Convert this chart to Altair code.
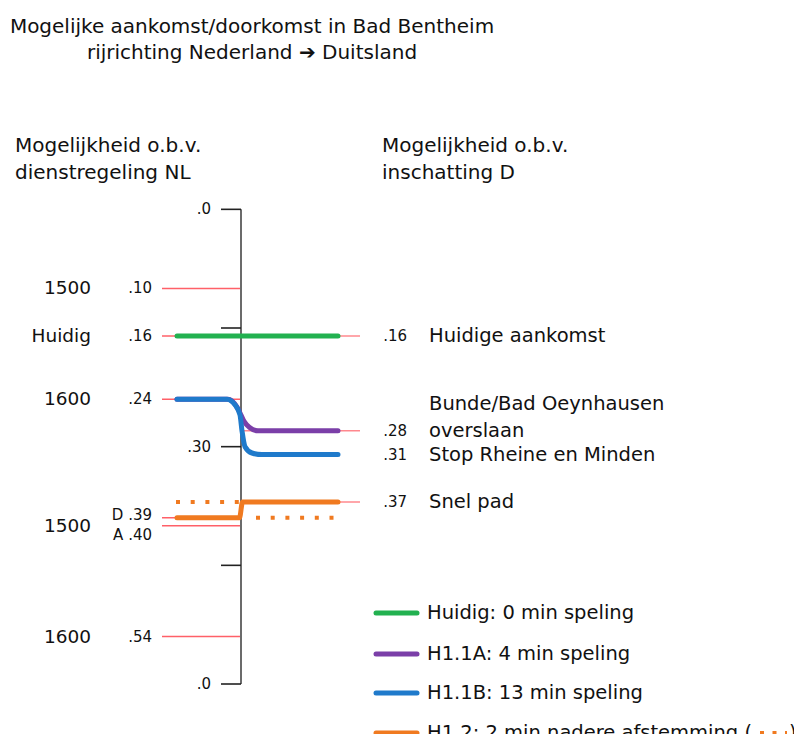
import altair as alt
import pandas as pd

FONT = "DejaVu Sans"

# ---- data (minutes past the hour) ----
left_rule_min = [10, 16, 24, 39, 40, 54]
left_rule_lbl = [".10", ".16", ".24", "D .39", "A .40", ".54"]
left_rule_dy = [0, 0, 0, -3, 9, 0]
nl_hours = ["1500", "Huidig", "1600", "1500", "1600"]
nl_hours_min = [10, 16, 24, 40, 54]

right_rule_min = [16, 28, 37]
right_lbl = [".16", ".28", ".31", ".37"]
right_lbl_min = [16, 28, 31, 37]
right_desc = ["Huidige aankomst", "overslaan", "Stop Rheine en Minden", "Snel pad"]

axis_tick_min = [0, 15, 30, 45, 60]
axis_lbl = [".0", ".30", ".0"]
axis_lbl_min = [0, 30, 60]

series = ["Huidig: 0 min speling", "H1.1A: 4 min speling",
          "H1.1B: 13 min speling", "H1.2: 2 min nadere afstemming ("]
colors = ["#22b150", "#7b3fa8", "#1f7acb", "#f07a20"]

# line paths (x: schematic position, axis at 0; y: minutes)
huidig_x = [-6.4, 9.7]
huidig_y = [16, 16]
h11a_x = [-6.4, -1.3, -0.4, 0.0, 0.3, 0.9, 1.7, 9.7]
h11a_y = [24, 24, 25, 26, 26.8, 27.6, 28, 28]
h11b_x = [-6.4, -1.4, -0.6, -0.1, 0.1, 0.4, 1.1, 2.1, 9.7]
h11b_y = [24, 24, 24.7, 26, 28, 30, 30.8, 31, 31]
h12_x = [-6.4, -0.15, 0.15, 9.7]
h12_y = [39, 39, 37, 37]
dots_x = [[-6.5, -0.1], [1.5, 9.3]]
dots_y = [37, 39]

# ---- tables ----
rows = []
for name, xs, ys in [(series[0], huidig_x, huidig_y), (series[1], h11a_x, h11a_y),
                     (series[2], h11b_x, h11b_y), (series[3], h12_x, h12_y)]:
    for i, (xv, yv) in enumerate(zip(xs, ys)):
        rows.append({"s": name, "i": i, "x": xv, "y": yv})
paths = pd.DataFrame(rows)

lr = pd.DataFrame({"y": left_rule_min, "lbl": left_rule_lbl, "dy": left_rule_dy,
                   "x1": -7.9, "x2": 0})
rr = pd.DataFrame({"y": right_rule_min, "x1": 0, "x2": 11.9})
hrs = pd.DataFrame({"y": nl_hours_min, "lbl": nl_hours})
rl = pd.DataFrame({"y": right_lbl_min, "lbl": right_lbl, "desc": right_desc})
at = pd.DataFrame({"y": axis_tick_min, "x1": -2, "x2": 0})
al = pd.DataFrame({"y": axis_lbl_min, "lbl": axis_lbl})
dots = pd.DataFrame([{"g": g, "x": xv, "y": dots_y[g]} for g in range(2) for xv in dots_x[g]])

X = alt.Scale(domain=[-23.3, 55.3])
Y = alt.Scale(domain=[-25.45, 66.32], reverse=True)

def xq(f):
    return alt.X(f, type="quantitative", scale=X, axis=None)

def yq(f):
    return alt.Y(f, type="quantitative", scale=Y, axis=None)

red = "#ff6068"

left_rules = alt.Chart(lr).mark_rule(color=red, strokeWidth=1.5).encode(
    x=xq("x1"), x2="x2", y=yq("y"))
right_rules = alt.Chart(rr).mark_rule(color=red, strokeWidth=1.5, opacity=0.75).encode(
    x=xq("x1"), x2="x2", y=yq("y"))
axis_line = alt.Chart(pd.DataFrame({"x": [0], "y1": [0], "y2": [60]})).mark_rule(
    color="#6b6b6b", strokeWidth=2).encode(x=xq("x"), y=yq("y1"), y2="y2")
axis_ticks = alt.Chart(at).mark_rule(color="#222222", strokeWidth=1.6).encode(
    x=xq("x1"), x2="x2", y=yq("y"))

cscale = alt.Scale(domain=series, range=colors)
lines = alt.Chart(paths).mark_line(strokeWidth=5, strokeCap="round",
                                   interpolate="monotone").encode(
    x=xq("x"), y=yq("y"),
    color=alt.Color("s:N", scale=cscale, legend=None),
    detail="s:N", order="i:Q")
dotted = alt.Chart(dots).mark_line(color=colors[3], strokeWidth=4,
                                   strokeDash=[4, 10.7]).encode(
    x=xq("x"), y=yq("y"), detail="g:N")

left_lbl_layers = []
for dyv in sorted(set(left_rule_dy)):
    left_lbl_layers.append(
        alt.Chart(lr[lr["dy"] == dyv]).mark_text(
            align="right", baseline="middle", font=FONT, fontSize=15,
            color="#111", dy=dyv).encode(
            x=alt.value(144), y=yq("y"), text="lbl:N"))
hour_lbls = alt.Chart(hrs).mark_text(align="right", baseline="middle", font=FONT,
                                     fontSize=18.5, color="#111").encode(
    x=alt.value(83), y=yq("y"), text="lbl:N")
axis_lbls = alt.Chart(al).mark_text(align="right", baseline="middle", font=FONT,
                                    fontSize=15, color="#111").encode(
    x=alt.value(203), y=yq("y"), text="lbl:N")
right_nums = alt.Chart(rl).mark_text(align="right", baseline="middle", font=FONT,
                                     fontSize=15, color="#111").encode(
    x=alt.value(399), y=yq("y"), text="lbl:N")
right_text = alt.Chart(rl).mark_text(align="left", baseline="middle", font=FONT,
                                     fontSize=19.5, color="#111").encode(
    x=alt.value(421), y=yq("y"), text="desc:N")
bunde = alt.Chart(pd.DataFrame({"y": [28], "t": ["Bunde/Bad Oeynhausen"]})).mark_text(
    align="left", baseline="middle", font=FONT, fontSize=19.5, color="#111", dy=-27).encode(
    x=alt.value(421), y=yq("y"), text="t:N")

def txt(s, x, y, align="left", size=18, color="#111"):
    return alt.Chart(pd.DataFrame({"t": [s]})).mark_text(
        align=align, baseline="alphabetic", font=FONT, fontSize=size, color=color).encode(
        x=alt.value(x), y=alt.value(y), text="t:N")

title1 = txt("Mogelijke aankomst/doorkomst in Bad Bentheim", 244, 25, align="center", size=20)
title2 = txt("rijrichting Nederland \u2794 Duitsland", 244, 51, align="center", size=20)
hl1 = txt("Mogelijkheid o.b.v.", 7, 144, size=20)
hl2 = txt("dienstregeling NL", 7, 171, size=20)
hr1 = txt("Mogelijkheid o.b.v.", 374, 144, size=20)
hr2 = txt("inschatting D", 374, 171, size=20)

legend_layers = []
leg_y = [605, 646, 685, 725]
for name, col, yy in zip(series, colors, leg_y):
    legend_layers.append(
        alt.Chart(pd.DataFrame({"s": [name]})).mark_rule(
            color=col, strokeWidth=5, strokeCap="round").encode(
            x=alt.value(368), x2=alt.value(409), y=alt.value(yy)))
    legend_layers.append(txt(name, 419, yy + 6, size=19.5))
legend_layers.append(alt.Chart(pd.DataFrame({"g": [0]})).mark_rule(
    color=colors[3], strokeWidth=4, strokeDash=[4, 8.5]).encode(
    x=alt.value(752), x2=alt.value(779), y=alt.value(725)))
legend_layers.append(txt(")", 781, 731, size=19.5))

chart = alt.layer(
    left_rules, right_rules, axis_line, axis_ticks, lines, dotted,
    *left_lbl_layers, hour_lbls, axis_lbls, right_nums, right_text, bunde,
    title1, title2, hl1, hl2, hr1, hr2, *legend_layers
).properties(
    width=786, height=726, autosize=alt.AutoSizeParams(type="none"), padding=0,
    background="white"
).configure_view(stroke=None)

chart.save("out.html", embed_options={"renderer": "svg", "actions": False})
